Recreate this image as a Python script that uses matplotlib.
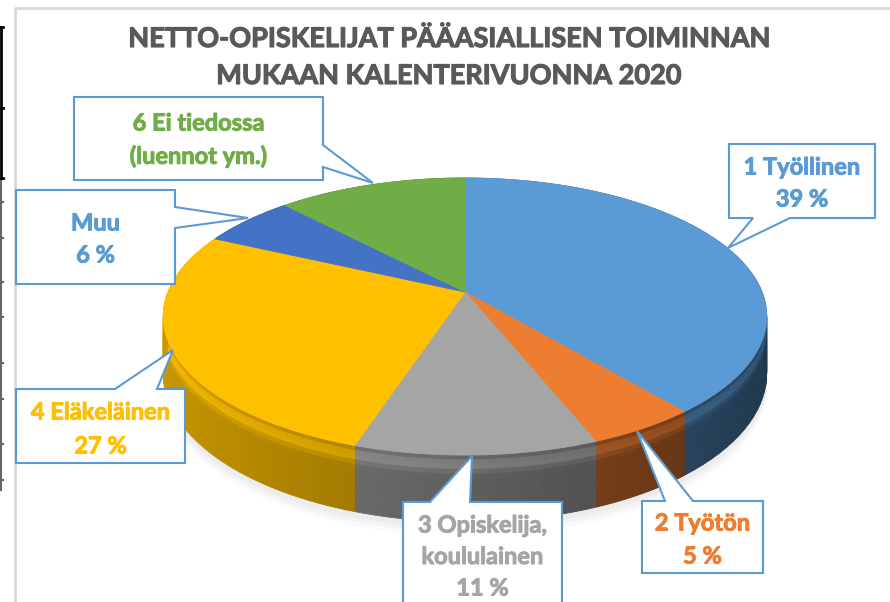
import numpy as np
import matplotlib.pyplot as plt
import matplotlib.patheffects as pe
from matplotlib.patches import Polygon

# data
labels = ["1 Työllinen", "2 Työtön", "3 Opiskelija,\nkoululainen",
          "4 Eläkeläinen", "Muu", "6 Ei tiedossa\n(luennot ym.)"]
shares = [39, 5, 11, 27, 6, 12]
show_pct = [True, True, True, True, True, False]
colors = ["#5B9BD5", "#ED7D31", "#A5A5A5", "#FFC000", "#4472C4", "#70AD47"]
title_lines = ["NETTO-OPISKELIJAT PÄÄASIALLISEN TOIMINNAN",
               "MUKAAN KALENTERIVUONNA 2020"]

# callout layout (pixels): box (x0, y0, x1, y1), pointer base side + two base coords, tip
callouts = [
    dict(box=(729, 144, 875, 218), side="bottom", base=(753, 790), tip=(728, 248)),
    dict(box=(642, 501, 763, 573), side="top", base=(665, 693), tip=(637, 431)),
    dict(box=(403, 502, 562, 620), side="top", base=(430, 470), tip=(472, 456)),
    dict(box=(16, 389, 185, 463), side="top", base=(115, 157), tip=(173, 350)),
    dict(box=(16, 190, 175, 284), side="right", base=(207, 228), tip=(248, 218)),
    dict(box=(74, 97, 323, 180), side="right", base=(145, 167), tip=(373, 183)),
]
text_y0 = [167, 523, 525, 412, 223, 123]
line_h = [32, 33, 31.5, 34, 32, 33]

# pie geometry (perspective)
CX, CY0, A, C, D, DEPTH = 465, 292, 82.5, -0.177, 297, 55


def proj(theta, r=1.0):
    u = r * np.sin(theta)
    v = -r * np.cos(theta)
    w = 1 + C * v
    return CX + D * u / w, (A * v + CY0) / w, w


fig = plt.figure(figsize=(8.9, 6.02), dpi=100)
ax = fig.add_axes([0, 0, 1, 1])
ax.set_xlim(0, 890)
ax.set_ylim(602, 0)
ax.axis("off")

# frame pieces
ax.plot([15, 15, 890], [602, 8, 8], color="#D9D9D9", lw=2)
ax.plot([1, 1], [27, 178], color="black", lw=2)
ax.plot([1, 1], [178, 490], color="#666666", lw=1.5)
for ty in [27, 108, 178]:
    ax.plot([0, 3], [ty, ty], color="black", lw=2)
for ty in [202, 238, 282, 317, 363, 399, 444, 480]:
    ax.plot([0, 3], [ty, ty], color="#666666", lw=1.5)

bounds = np.concatenate([[0], np.cumsum(shares)]) / 100 * 2 * np.pi

# soft shadow
th = np.linspace(0, 2 * np.pi, 300)
sx, sy, sw = proj(th)
for k, a in zip([14, 10, 6], [0.04, 0.05, 0.06]):
    ax.fill(sx, sy + DEPTH / sw + k, color="#808080", alpha=a, lw=0)

# sides, split in bands so the upper rim gets a soft highlight
edges = np.linspace(0, 1, 15)
for i in range(len(shares)):
    t = np.linspace(bounds[i], bounds[i + 1], 60)
    base = np.array(plt.matplotlib.colors.to_rgb(colors[i]))
    for t0, t1 in zip(t[:-1], t[1:]):
        x0, y0, w0 = proj(t0)
        x1, y1, w1 = proj(t1)
        um = np.sin((t0 + t1) / 2)
        f = 0.57 - 0.22 * um
        for a0, a1 in zip(edges[:-1], edges[1:]):
            am = (a0 + a1) / 2
            boost = 0.2 * np.exp(-((am - 0.15) / 0.1) ** 2)
            c = np.clip(base * (f + boost), 0, 1)
            ax.add_patch(Polygon([(x0, y0 + a0 * DEPTH / w0), (x1, y1 + a0 * DEPTH / w1),
                                  (x1, y1 + a1 * DEPTH / w1), (x0, y0 + a1 * DEPTH / w0)],
                                 closed=True, facecolor=c, edgecolor=c, lw=0.6))

# top surfaces
for i in range(len(shares)):
    t = np.linspace(bounds[i], bounds[i + 1], 120)
    x, y, _ = proj(t)
    pts = [(CX, CY0)] + list(zip(x, y))
    ax.add_patch(Polygon(pts, closed=True, facecolor=colors[i],
                         edgecolor=colors[i], lw=0.6))

# title
for k, line in enumerate(title_lines):
    ax.text(449, 39 + k * 37, line, ha="center", va="center",
            fontsize=19.5, fontweight="bold", color="#595959", family="Lato",
            path_effects=[pe.withStroke(linewidth=0.8, foreground="#595959")])

# callouts
for i, cfg in enumerate(callouts):
    x0, y0, x1, y1 = cfg["box"]
    b0, b1 = cfg["base"]
    tip = cfg["tip"]
    if cfg["side"] == "top":
        pts = [(x0, y0), (b0, y0), tip, (b1, y0), (x1, y0), (x1, y1), (x0, y1)]
    elif cfg["side"] == "bottom":
        pts = [(x0, y0), (x1, y0), (x1, y1), (b1, y1), tip, (b0, y1), (x0, y1)]
    else:
        pts = [(x0, y0), (x1, y0), (x1, b0), tip, (x1, b1), (x1, y1), (x0, y1)]
    ax.add_patch(Polygon(pts, closed=True, facecolor="white",
                         edgecolor="#5B9BD5", lw=1.5, zorder=5))
    lines = labels[i].split("\n")
    if show_pct[i]:
        lines.append(f"{shares[i]} %")
    cxb = (x0 + x1) / 2
    tc = colors[i] if i != 4 else "#5B9BD5"
    for k, ln in enumerate(lines):
        ax.text(cxb, text_y0[i] + k * line_h[i], ln, ha="center", va="center",
                fontsize=17, fontweight="bold", color=tc, family="Lato", zorder=6,
                path_effects=[pe.withStroke(linewidth=0.7, foreground=tc)])

fig.savefig("out.png", dpi=100)
